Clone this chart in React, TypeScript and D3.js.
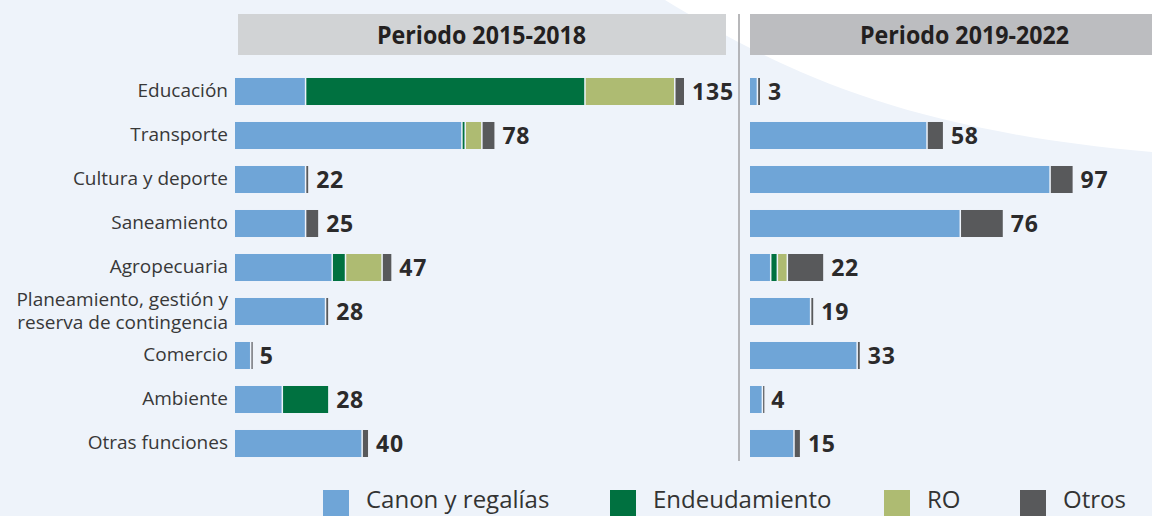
import React from "react";
import * as d3 from "d3";

const categories = [
  "Educación",
  "Transporte",
  "Cultura y deporte",
  "Saneamiento",
  "Agropecuaria",
  "Planeamiento, gestión y\nreserva de contingencia",
  "Comercio",
  "Ambiente",
  "Otras funciones",
];
const seriesNames = ["Canon y regalías", "Endeudamiento", "RO", "Otros"];
const seriesColors = ["#6fa5d7", "#007140", "#aebb72", "#58595b"];
const periods = ["Periodo 2015-2018", "Periodo 2019-2022"];

// Periodo 2015-2018
const canon1 = [21, 68, 21, 21, 29, 27, 4.5, 14, 38];
const endeud1 = [84, 1, 0, 0, 4, 0, 0, 14, 0];
const ro1 = [27, 5, 0, 0, 11, 0, 0, 0, 0];
const otros1 = [3, 4, 1, 4, 3, 1, 0.5, 0, 2];
const totals1 = [135, 78, 22, 25, 47, 28, 5, 28, 40];

// Periodo 2019-2022
const canon2 = [2, 53, 90, 63, 6, 18, 32, 3.5, 13];
const endeud2 = [0, 0, 0, 0, 2, 0, 0, 0, 0];
const ro2 = [0, 0, 0, 0, 3, 0, 0, 0, 0];
const otros2 = [1, 5, 7, 13, 11, 1, 1, 0.5, 2];
const totals2 = [3, 58, 97, 76, 22, 19, 33, 4, 15];

const W = 1152;
const H = 516;
const textColor = "#2b2a2b";
const labelFont = "'Open Sans', 'Noto Sans', sans-serif";

type Panel = {
  x0: number;
  series: number[][];
  totals: number[];
};

export default function App() {
  const y = d3
    .scaleBand<string>()
    .domain(categories)
    .range([69.5, 465.5])
    .paddingInner(0.386)
    .paddingOuter(0.193);
  const len = d3.scaleLinear().domain([0, 135]).range([0, 449]);

  const panels: Panel[] = [
    { x0: 235, series: [canon1, endeud1, ro1, otros1], totals: totals1 },
    { x0: 750, series: [canon2, endeud2, ro2, otros2], totals: totals2 },
  ];

  const stackGen = d3.stack<number>().keys(seriesNames.map((_, i) => String(i)));

  const legendX = [323, 610, 884, 1020];

  return (
    <svg
      width={W}
      height={H}
      style={{ position: "absolute", left: 0, top: 0 }}
      xmlns="http://www.w3.org/2000/svg"
    >
      <rect x={0} y={0} width={W} height={H} fill="#eef3fa" />
      <path d="M665,0 C780,70 900,130 1152,152 L1152,0 Z" fill="#ffffff" />

      {/* headers */}
      <rect x={238} y={14} width={488} height={41} fill="#d1d3d5" />
      <rect x={750} y={14} width={402} height={41} fill="#bcbdc0" />
      <text
        x={377}
        y={44}
        fontFamily={labelFont}
        fontWeight="bold"
        fontSize={25}
        textLength={209}
        lengthAdjust="spacingAndGlyphs"
        fill="#231f20"
      >
        {periods[0]}
      </text>
      <text
        x={860}
        y={44}
        fontFamily={labelFont}
        fontWeight="bold"
        fontSize={25}
        textLength={209}
        lengthAdjust="spacingAndGlyphs"
        fill="#231f20"
      >
        {periods[1]}
      </text>

      <line x1={739} x2={739} y1={14} y2={461} stroke="#a0a0a3" strokeWidth={1.5} />

      {/* category labels */}
      {categories.map((c) => {
        const cy = (y(c) as number) + y.bandwidth() / 2;
        const lines = c.split("\n");
        return (
          <text
            key={c}
            x={228}
            textAnchor="end"
            fontFamily={labelFont}
            fontSize={19}
            fill="#383838"
          >
            {lines.map((l, i) => (
              <tspan key={i} x={228} y={cy + 5.5 + (i - (lines.length - 1) / 2) * 23}>
                {l}
              </tspan>
            ))}
          </text>
        );
      })}

      {/* bars */}
      {panels.map((p, pi) => {
        const rows = categories.map((_, ci) => {
          const o: any = {};
          p.series.forEach((s, si) => (o[String(si)] = s[ci]));
          return o;
        });
        const stacked = stackGen(rows as any);
        return (
          <g key={pi}>
            {stacked.map((layer, si) =>
              layer.map((d, ci) => {
                const v = d[1] - d[0];
                if (v <= 0) return null;
                const gap = d[0] > 0 ? 1.5 : 0;
                const xs = p.x0 + len(d[0]) + gap;
                const w = Math.max(len(d[1]) - len(d[0]) - gap, 1.2);
                return (
                  <rect
                    key={si + "-" + ci}
                    x={xs}
                    y={y(categories[ci]) as number}
                    width={w}
                    height={y.bandwidth()}
                    fill={seriesColors[si]}
                  />
                );
              })
            )}
            {p.totals.map((t, ci) => {
              const end = p.x0 + len(d3.sum(p.series, (s) => s[ci]));
              const cy = (y(categories[ci]) as number) + y.bandwidth() / 2;
              return (
                <text
                  key={"t" + ci}
                  x={end + 8}
                  y={cy + 8.5}
                  fontFamily={labelFont}
                  fontWeight="bold"
                  fontSize={23}
                  letterSpacing={0.8}
                  fill={textColor}
                >
                  {t}
                </text>
              );
            })}
          </g>
        );
      })}

      {/* legend */}
      {seriesNames.map((s, i) => (
        <g key={s}>
          <rect x={legendX[i]} y={490} width={26} height={26} fill={seriesColors[i]} />
          <text
            x={legendX[i] + 43}
            y={508}
            fontFamily={labelFont}
            fontSize={24}
            fill="#333333"
          >
            {s}
          </text>
        </g>
      ))}
    </svg>
  );
}
